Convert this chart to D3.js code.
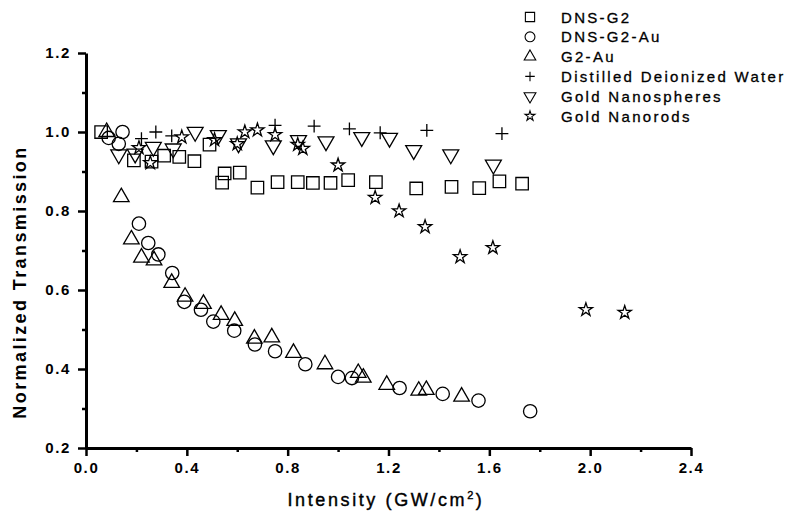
<!DOCTYPE html>
<html>
<head>
<meta charset="utf-8">
<script src="https://cdn.jsdelivr.net/npm/d3@7"></script>
<style>
  body { margin: 0; background: #fff; }
  svg { display: block; font-family: "Liberation Sans", Arial, sans-serif; }
  .tick text { font-weight: bold; font-size: 15px; letter-spacing: 1.6px; fill: #000; }
  .legend text { font-size: 15px; letter-spacing: 2.3px; fill: #000; stroke: #000; stroke-width: 0.3px; }
</style>
</head>
<body>
<div id="chart"></div>
<script>
// tick values
const xTicks = [0, 0.4, 0.8, 1.2, 1.6, 2.0, 2.4];
const xMinorTicks = [0.2, 0.6, 1.0, 1.4, 1.8, 2.2];
const yTicks = [0.2, 0.4, 0.6, 0.8, 1.0, 1.2];
const yMinorTicks = [0.3, 0.5, 0.7, 0.9, 1.1];

const seriesNames = [
  "DNS-G2",
  "DNS-G2-Au",
  "G2-Au",
  "Distilled Deionized Water",
  "Gold Nanospheres",
  "Gold Nanorods"
];

// [intensity, normalized transmission]
const dnsG2 = [
  [0.06, 1.0], [0.19, 0.928], [0.26, 0.925], [0.31, 0.94], [0.37, 0.937],
  [0.43, 0.926], [0.49, 0.968], [0.54, 0.872], [0.55, 0.895], [0.61, 0.897],
  [0.68, 0.859], [0.76, 0.873], [0.84, 0.873], [0.9, 0.871], [0.97, 0.871],
  [1.04, 0.878], [1.15, 0.873], [1.31, 0.857], [1.45, 0.861], [1.56, 0.858],
  [1.64, 0.875], [1.73, 0.869]
];
const dnsG2Au = [
  [0.09, 0.985], [0.13, 0.97], [0.145, 1.0], [0.21, 0.768], [0.247, 0.719],
  [0.287, 0.69], [0.342, 0.643], [0.39, 0.57], [0.456, 0.55], [0.505, 0.52],
  [0.588, 0.497], [0.67, 0.462], [0.75, 0.445], [0.87, 0.412], [1.0, 0.38],
  [1.055, 0.377], [1.244, 0.352], [1.415, 0.337], [1.557, 0.32], [1.762, 0.293]
];
const g2Au = [
  [0.082, 1.0], [0.14, 0.835], [0.18, 0.728], [0.22, 0.682], [0.27, 0.675],
  [0.34, 0.618], [0.393, 0.583], [0.466, 0.565], [0.536, 0.537], [0.59, 0.522],
  [0.668, 0.477], [0.737, 0.48], [0.823, 0.441], [0.948, 0.412], [1.08, 0.39],
  [1.1, 0.378], [1.193, 0.36], [1.32, 0.345], [1.35, 0.347], [1.49, 0.33]
];
const water = [
  [0.22, 0.983], [0.277, 1.0], [0.34, 0.99], [0.75, 1.017], [0.905, 1.015],
  [1.045, 1.008], [1.167, 0.998], [1.352, 1.004], [1.65, 0.996]
];
const nanospheres = [
  [0.13, 0.943], [0.195, 0.945], [0.267, 0.962], [0.346, 0.958], [0.433, 1.0],
  [0.525, 0.992], [0.605, 0.971], [0.743, 0.966], [0.843, 0.979], [0.952, 0.976],
  [1.094, 0.987], [1.204, 0.985], [1.3, 0.954], [1.447, 0.943], [1.616, 0.917]
];
const nanorods = [
  [0.21, 0.96], [0.255, 0.922], [0.38, 0.987], [0.51, 0.98], [0.6, 0.97],
  [0.63, 1.0], [0.68, 1.005], [0.75, 0.993], [0.84, 0.968], [0.86, 0.958],
  [1.0, 0.916], [1.147, 0.834], [1.242, 0.8], [1.345, 0.76], [1.484, 0.684],
  [1.614, 0.707], [1.983, 0.55], [2.137, 0.543]
];

const seriesData = [dnsG2, dnsG2Au, g2Au, water, nanospheres, nanorods];

// thin plus sign, d3.symbolCross is a filled shape
const symbolPlus = {
  draw(context, size) {
    const r = Math.sqrt(size) / 2;
    context.moveTo(-r, 0);
    context.lineTo(r, 0);
    context.moveTo(0, -r);
    context.lineTo(0, r);
  }
};

class ScatterPlot {
  constructor() {
    this.width = 792;
    this.height = 511;
    this.margin = { top: 53, right: 101, bottom: 63, left: 86 };

    this.svg = d3.select("#chart").append("svg")
      .attr("width", this.width)
      .attr("height", this.height);

    this.xScale = d3.scaleLinear()
      .domain([0, 2.4])
      .range([this.margin.left, this.width - this.margin.right]);
    this.yScale = d3.scaleLinear()
      .domain([0.2, 1.2])
      .range([this.height - this.margin.bottom, this.margin.top]);

    // marker shape, size and rotation per series
    this.markers = [
      { type: d3.symbolSquare, size: 155, rotate: 0 },
      { type: d3.symbolCircle, size: 140, rotate: 0 },
      { type: d3.symbolTriangle, size: 105, rotate: 0 },
      { type: symbolPlus, size: 165, rotate: 0 },
      { type: d3.symbolTriangle, size: 110, rotate: 180 },
      { type: d3.symbolStar, size: 55, rotate: 0 }
    ];
  }

  drawAxes() {
    const y0 = this.yScale(0.2);
    const x0 = this.xScale(0);

    // minor ticks first so the major ones sit on top
    this.svg.append("g")
      .attr("transform", `translate(0, ${y0})`)
      .call(d3.axisBottom(this.xScale).tickValues(xMinorTicks).tickSize(4).tickFormat(""))
      .call(g => g.select(".domain").remove())
      .call(g => g.selectAll("line").attr("stroke-width", 2.5));
    this.svg.append("g")
      .attr("transform", `translate(${x0}, 0)`)
      .call(d3.axisLeft(this.yScale).tickValues(yMinorTicks).tickSize(4).tickFormat(""))
      .call(g => g.select(".domain").remove())
      .call(g => g.selectAll("line").attr("stroke-width", 2.5));

    // x axis
    this.svg.append("g")
      .attr("transform", `translate(0, ${y0})`)
      .call(d3.axisBottom(this.xScale)
        .tickValues(xTicks)
        .tickSize(8)
        .tickSizeOuter(0)
        .tickPadding(6)
        .tickFormat(d3.format(".1f")))
      .call(g => g.select(".domain").attr("stroke-width", 3))
      .call(g => g.selectAll(".tick line").attr("stroke-width", 2.5));

    // y axis
    this.svg.append("g")
      .attr("transform", `translate(${x0}, 0)`)
      .call(d3.axisLeft(this.yScale)
        .tickValues(yTicks)
        .tickSize(8)
        .tickSizeOuter(0)
        .tickPadding(7)
        .tickFormat(d3.format(".1f")))
      .call(g => g.select(".domain").attr("stroke-width", 3))
      .call(g => g.selectAll(".tick line").attr("stroke-width", 2.5));

    // x axis label
    const xLabel = this.svg.append("text")
      .attr("x", 386)
      .attr("y", 506)
      .attr("text-anchor", "middle")
      .style("font-size", "18px")
      .style("letter-spacing", "2.6px")
      .attr("fill", "#000")
      .attr("stroke", "#000")
      .attr("stroke-width", 0.4);
    xLabel.append("tspan").text("Intensity (GW/cm");
    xLabel.append("tspan").text("2").attr("dy", -7).style("font-size", "11px");
    xLabel.append("tspan").text(")").attr("dy", 7);

    // y axis label
    this.svg.append("text")
      .attr("text-anchor", "middle")
      .attr("transform", `translate(26, 282)rotate(-90)`)
      .style("font-size", "18px")
      .style("font-weight", "bold")
      .style("letter-spacing", "2.4px")
      .text("Normalized Transmission");
  }

  drawPoints() {
    seriesData.forEach((data, i) => {
      const m = this.markers[i];
      const symbol = d3.symbol().type(m.type).size(m.size);
      this.svg.append("g")
        .selectAll("path")
        .data(data)
        .join("path")
        .attr("d", symbol)
        .attr("transform", d =>
          `translate(${this.xScale(d[0])}, ${this.yScale(d[1])})rotate(${m.rotate})`)
        .attr("fill", "none")
        .attr("stroke", "#000")
        .attr("stroke-width", 1.3);
    });
  }

  drawLegend() {
    const legend = this.svg.append("g").classed("legend", true);
    seriesNames.forEach((name, i) => {
      const m = this.markers[i];
      const y = 17 + i * 19.8;
      legend.append("path")
        .attr("d", d3.symbol().type(m.type).size(m.size * 0.55))
        .attr("transform", `translate(530, ${y})rotate(${m.rotate})`)
        .attr("fill", "none")
        .attr("stroke", "#000")
        .attr("stroke-width", 1.1);
      legend.append("text")
        .attr("x", 561)
        .attr("y", y + 5.5)
        .text(name);
    });
  }
}

const chart = new ScatterPlot();
chart.drawAxes();
chart.drawPoints();
chart.drawLegend();
</script>
</body>
</html>
